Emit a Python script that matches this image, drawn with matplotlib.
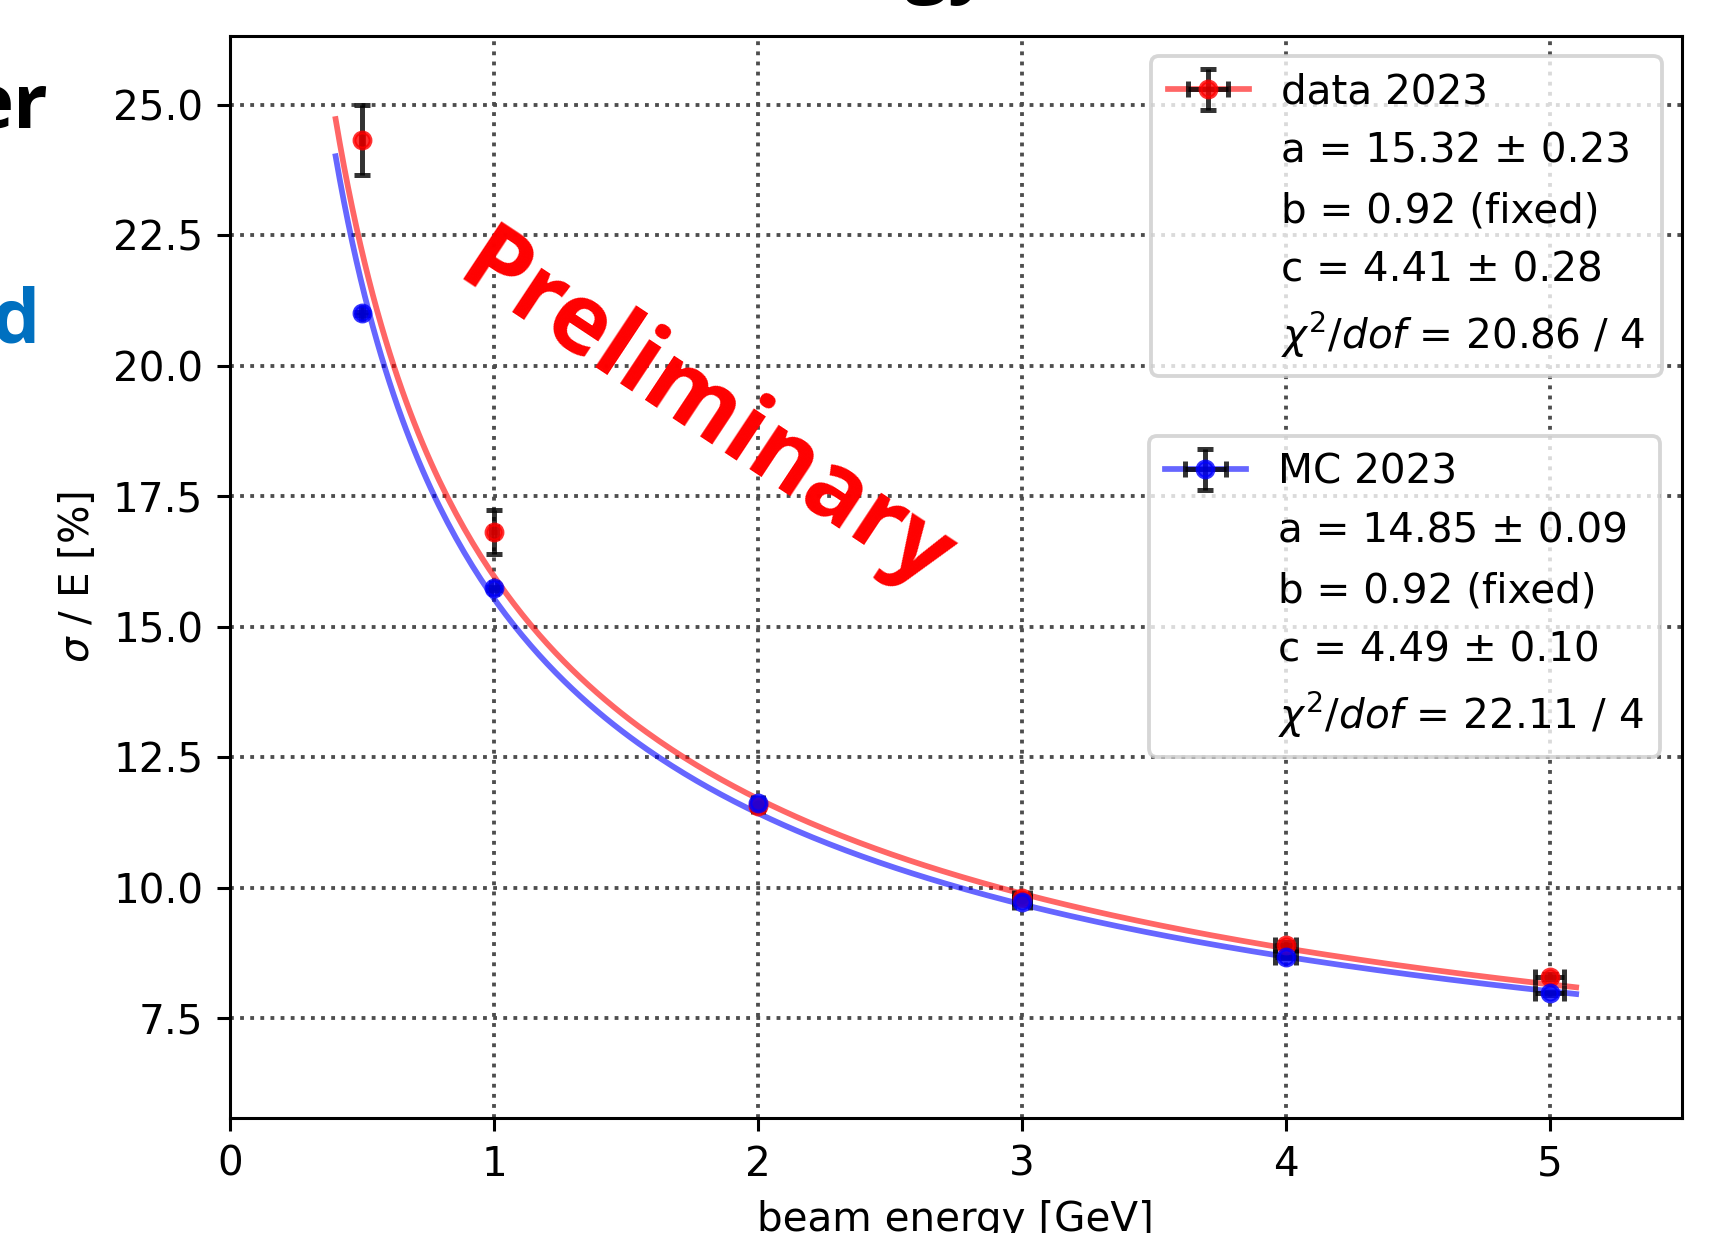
import numpy as np
import matplotlib
matplotlib.use('Agg')
import matplotlib.pyplot as plt
from matplotlib.lines import Line2D

# Measured points (beam energy in GeV, resolution in %)
energy = [0.5, 1, 2, 3, 4, 5]
energy_err = [0.005, 0.01, 0.02, 0.03, 0.04, 0.055]

data_res = [24.33, 16.81, 11.57, 9.80, 8.91, 8.30]
data_err = [0.67, 0.42, 0.06, 0.05, 0.05, 0.05]

mc_res = [21.01, 15.74, 11.63, 9.73, 8.68, 7.98]
mc_err = [0.03, 0.03, 0.03, 0.03, 0.03, 0.03]

# Fit parameters a, b, c
data_fit = (15.32, 0.92, 4.41)
mc_fit = (14.85, 0.92, 4.49)

data_text = ['data 2023', 'a = 15.32 ± 0.23', 'b = 0.92 (fixed)',
             'c = 4.41 ± 0.28', r'$\chi^2/dof$ = 20.86 / 4']
mc_text = ['MC 2023', 'a = 14.85 ± 0.09', 'b = 0.92 (fixed)',
           'c = 4.49 ± 0.10', r'$\chi^2/dof$ = 22.11 / 4']


def resolution(E, a, b, c):
	return np.sqrt(a**2 / E + (b / E)**2 + c**2)


def main():
	plt.rcParams['font.size'] = 10.6
	fig = plt.figure(figsize=(1718/275, 1233/275), dpi=275)
	ax = fig.add_axes([0.1339, 0.0933, 0.845, 0.8775])

	e = np.linspace(0.4, 5.1, 300)
	l_data, = ax.plot(e, resolution(e, *data_fit), color='red', alpha=0.6, lw=1.5)
	l_mc, = ax.plot(e, resolution(e, *mc_fit), color='blue', alpha=0.6, lw=1.5)

	eb_kw = dict(fmt='o', ms=4.2, ecolor='black', elinewidth=1.3,
	             capsize=2, capthick=1.3, alpha=0.8)
	eb_data = ax.errorbar(energy, data_res, yerr=data_err, xerr=energy_err,
	                      color='red', **eb_kw)
	eb_mc = ax.errorbar(energy, mc_res, yerr=mc_err, xerr=energy_err,
	                    color='blue', **eb_kw)

	ax.set_xlim(0, 5.5)
	ax.set_ylim(5.59, 26.32)
	ax.set_yticks([7.5, 10.0, 12.5, 15.0, 17.5, 20.0, 22.5, 25.0])
	ax.grid(ls=':', color='0.3', lw=1)
	ax.set_xlabel('beam energy [GeV]')
	ax.set_ylabel(r'$\sigma$ / E [%]')

	blank = Line2D([], [], color='none')
	leg1 = ax.legend([(l_data, eb_data)] + [blank]*4, data_text,
	                 loc='upper right', labelspacing=0.48)
	ax.add_artist(leg1)
	ax.legend([(l_mc, eb_mc)] + [blank]*4, mc_text, loc='upper right',
	          bbox_to_anchor=(0.985, 0.630), borderaxespad=0, labelspacing=0.48)

	ax.text(0.3264, 0.650, 'Preliminary', transform=ax.transAxes,
	        rotation=-33.5, rotation_mode='anchor', ha='center', va='center',
	        color='red', fontsize=25.5, fontweight='bold', family='Open Sans')

	# Fragments of the surrounding slide
	fig.text(-0.018, 0.8962, 'er', ha='left', va='baseline', fontsize=20,
	         fontweight='bold', family='Open Sans', color='black')
	fig.text(0.023, 0.7226, 'd', ha='right', va='baseline', fontsize=20,
	         fontweight='bold', family='Open Sans', color='#0070C0')
	fig.text(0.5774, 1.0097, 'Energy', ha='right', va='baseline', fontsize=20,
	         fontweight='bold', family='Open Sans', color='black')

	fig.savefig('out.png', dpi=275)


if __name__ == '__main__':
	main()
